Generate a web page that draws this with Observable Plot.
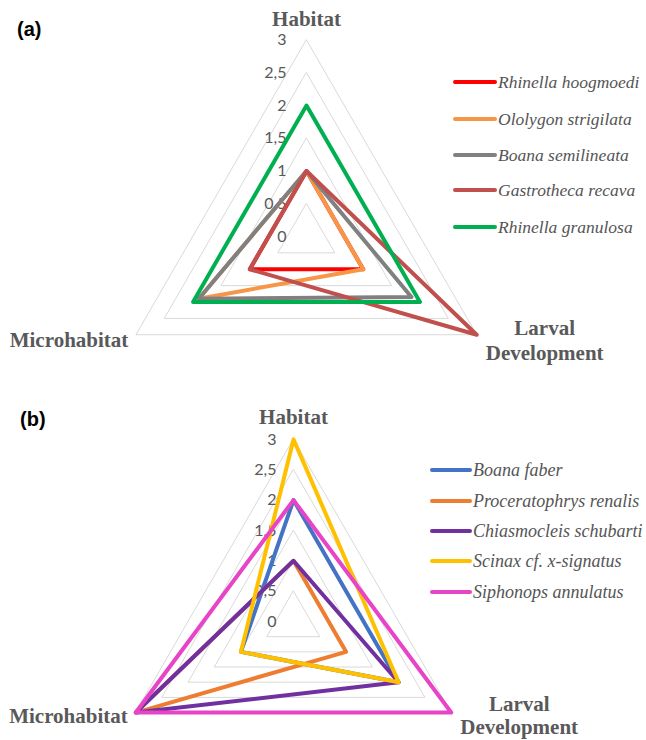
<!DOCTYPE html>
<html><head><meta charset="utf-8">
<script src="https://cdn.jsdelivr.net/npm/d3@7"></script>
<script src="https://cdn.jsdelivr.net/npm/@observablehq/plot@0.6"></script>
<style>
body{margin:0;background:#fff;}
.panel{position:relative;width:646px;height:370px;overflow:hidden;}
.panel svg{position:absolute;left:0;top:0;}
.tag{position:absolute;font-family:"Liberation Sans",Arial,sans-serif;font-weight:bold;font-size:20px;color:#000;line-height:20px;}
.legend{position:absolute;left:0;top:0;color:#555;}
.item{position:absolute;display:flex;align-items:center;white-space:nowrap;height:20px;}
.sw{display:inline-block;height:4px;border-radius:2px;margin-right:1px;}
.nm{font-family:"Liberation Serif","Times New Roman",serif;font-style:italic;}
</style></head><body>
<div id="a" class="panel"></div>
<div id="b" class="panel"></div>
<script>
// axes, clockwise from top
const axisNames = ["Habitat", "Larval\nDevelopment", "Microhabitat"];
const ticks = [0, 0.5, 1, 1.5, 2, 2.5, 3];
const rings = [0.5, 1, 1.5, 2, 2.5, 3];

// panel (a)
const speciesA = ["Rhinella hoogmoedi", "Ololygon strigilata", "Boana semilineata", "Gastrotheca recava", "Rhinella granulosa"];
const habitatA = [1, 1, 1, 1, 2];
const larvalA  = [1, 1, 1.85, 3, 2];
const microA   = [1, 1.9, 1.9, 1, 2];
const colorsA  = ["#ff0000", "#f79646", "#808080", "#c0504d", "#00b050"];

// panel (b)
const speciesB = ["Boana faber", "Proceratophrys renalis", "Chiasmocleis schubarti", "Scinax cf. x-signatus", "Siphonops annulatus"];
const habitatB = [2, 1, 1, 3, 2];
const larvalB  = [2, 1, 2, 2, 3];
const microB   = [1, 3, 3, 1, 3];
const colorsB  = ["#4472c4", "#ed7d31", "#7030a0", "#ffc000", "#e844c8"];

const ANG = [90, -30, 210].map(d => d * Math.PI / 180);
const px = (v, k) => v * Math.cos(ANG[k]);
const py = (v, k) => v * Math.sin(ANG[k]);
const fmt = t => String(t).replace(".", ",");

function radar(cfg) {
  const {species, habitat, larval, micro, colors, cx, cy, unit, tickDx, hab, mic, lar, lineH} = cfg;
  const W = 646, H = 370;
  const rows = species.flatMap((s, i) => [habitat[i], larval[i], micro[i]].map((v, k) => ({s, k, v})));
  const grid = rings.flatMap(r => [0, 1, 2].map(k => ({r, k})));
  const verts = axisNames.map((name, k) => ({name, k, v: 3}));
  const labStyle = {fill: "#595959", fontSize: 21, fontWeight: "bold", fontFamily: "Liberation Serif, serif",
    x: d => px(d.v, d.k), y: d => py(d.v, d.k), text: "name"};
  return Plot.plot({
    width: W, height: H, margin: 0,
    x: {domain: [-cx / unit, (W - cx) / unit], range: [0, W], axis: null},
    y: {domain: [-(H - cy) / unit, cy / unit], range: [H, 0], axis: null},
    color: {domain: species, range: colors},
    style: {background: "transparent", overflow: "visible"},
    marks: [
      Plot.line(grid, {x: d => px(d.r, d.k), y: d => py(d.r, d.k), z: "r", stroke: "#d9d9d9", strokeWidth: 1, curve: "linear-closed"}),
      Plot.text(ticks, {x: () => 0, y: d => d, text: fmt, textAnchor: "end", dx: tickDx, fill: "#595959", fontSize: 16, fontFamily: "Lato, sans-serif"}),
      Plot.line(rows, {x: d => px(d.v, d.k), y: d => py(d.v, d.k), z: "s", stroke: "s", strokeWidth: 4, curve: "linear-closed", strokeLinejoin: "round"}),
      Plot.text(verts.filter(d => d.k === 0), {...labStyle, textAnchor: "middle", dy: hab}),
      Plot.text(verts.filter(d => d.k === 2), {...labStyle, textAnchor: "end", dx: mic[0], dy: mic[1]}),
      Plot.text(verts.filter(d => d.k === 1), {...labStyle, textAnchor: "middle", dx: lar[0], dy: lar[1], lineHeight: lineH})
    ]
  });
}

function legend(el, species, colors, left, swW, tops, size) {
  const lg = document.createElement("div");
  lg.className = "legend";
  lg.style.fontSize = size + "px";
  species.forEach((s, i) => {
    const it = document.createElement("div");
    it.className = "item";
    it.style.left = left + "px";
    it.style.top = (tops[i] - 10) + "px";
    const sw = document.createElement("span");
    sw.className = "sw";
    sw.style.width = swW + "px";
    sw.style.background = colors[i];
    it.appendChild(sw);
    const tx = document.createElement("span");
    tx.className = "nm";
    tx.textContent = s;
    it.appendChild(tx);
    lg.appendChild(it);
  });
  el.appendChild(lg);
}

function tag(el, t, left, top) {
  const d = document.createElement("div");
  d.className = "tag";
  d.textContent = t;
  d.style.left = left + "px";
  d.style.top = top + "px";
  el.appendChild(d);
}

const elA = document.getElementById("a");
elA.appendChild(radar({species: speciesA, habitat: habitatA, larval: larvalA, micro: microA, colors: colorsA,
  cx: 306, cy: 236, unit: 65.5, tickDx: -20, hab: -21, mic: [-8, 6], lar: [68, 5], lineH: 1.2}));
legend(elA, speciesA, colorsA, 453, 44, [82, 119, 155, 190, 227], 17.5);
tag(elA, "(a)", 17, 19);

const elB = document.getElementById("b");
elB.appendChild(radar({species: speciesB, habitat: habitatB, larval: larvalB, micro: microB, colors: colorsB,
  cx: 293, cy: 251, unit: 60.7, tickDx: -17, hab: -22, mic: [-8, 4], lar: [68, 2.5], lineH: 1.12}));
legend(elB, speciesB, colorsB, 430, 42, [100, 131, 161, 191, 222], 18);
tag(elB, "(b)", 20, 39);
</script>
</body></html>
